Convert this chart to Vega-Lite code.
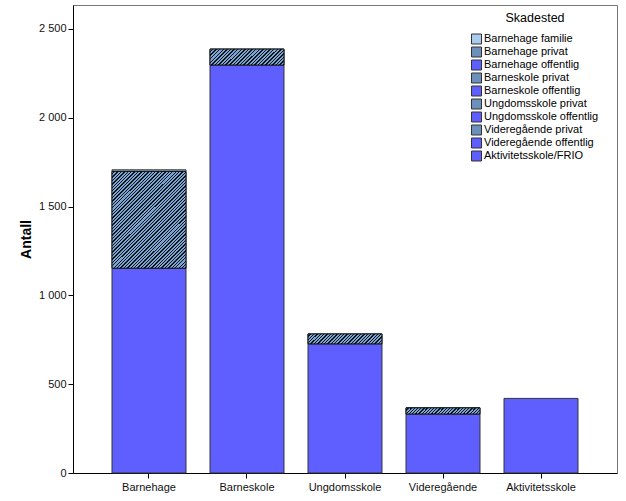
{
  "$schema": "https://vega.github.io/schema/vega-lite/v6.json",
  "width": 544,
  "height": 468,
  "autosize": {"type": "none"},
  "padding": {"left": 73, "top": 5, "right": 9, "bottom": 28},
  "config": {"font": "Liberation Sans", "view": {"stroke": "#777", "strokeWidth": 1}},
  "data": {"values": [
    {"Type": "Barnehage", "Skadested": "Barnehage familie", "Antall": 9},
    {"Type": "Barnehage", "Skadested": "Barnehage privat", "Antall": 545},
    {"Type": "Barnehage", "Skadested": "Barnehage offentlig", "Antall": 1153},
    {"Type": "Barneskole", "Skadested": "Barneskole privat", "Antall": 90},
    {"Type": "Barneskole", "Skadested": "Barneskole offentlig", "Antall": 2297},
    {"Type": "Ungdomsskole", "Skadested": "Ungdomsskole privat", "Antall": 56},
    {"Type": "Ungdomsskole", "Skadested": "Ungdomsskole offentlig", "Antall": 727},
    {"Type": "Videregående", "Skadested": "Videregående privat", "Antall": 35},
    {"Type": "Videregående", "Skadested": "Videregående offentlig", "Antall": 332},
    {"Type": "Aktivitetsskole", "Skadested": "Aktivitetsskole/FRIO", "Antall": 420}
  ]},
  "transform": [
    {"calculate": "indexof(['Barnehage familie','Barnehage privat','Barnehage offentlig','Barneskole privat','Barneskole offentlig','Ungdomsskole privat','Ungdomsskole offentlig','Videregående privat','Videregående offentlig','Aktivitetsskole/FRIO'], datum.Skadested)", "as": "so"},
    {"stack": "Antall", "groupby": ["Type"], "sort": [{"field": "so", "order": "descending"}], "as": ["y0", "y1"]}
  ],
  "encoding": {
    "x": {"field": "Type", "type": "nominal", "sort": ["Barnehage", "Barneskole", "Ungdomsskole", "Videregående", "Aktivitetsskole"],
      "scale": {"paddingInner": 0.245, "paddingOuter": 0.398},
      "axis": {"title": null, "labelAngle": 0, "labelFontSize": 11, "labelColor": "#111", "tickSize": 5, "tickColor": "#000", "domainColor": "#000", "labelPadding": 3, "grid": false}},
    "y": {"field": "y1", "type": "quantitative", "scale": {"domain": [0, 2635], "nice": false, "zero": true},
      "axis": {"title": "Antall", "titleFontSize": 14, "titleFontWeight": "bold", "titleColor": "#000", "titlePadding": 5,
        "values": [0, 500, 1000, 1500, 2000, 2500], "labelExpr": "replace(format(datum.value, ','), ',', ' ')",
        "labelFontSize": 11, "labelColor": "#111", "tickSize": 5, "tickColor": "#000", "domainColor": "#000", "labelPadding": 2, "grid": false}},
    "y2": {"field": "y0"}
  },
  "layer": [
    {
      "mark": {"type": "bar", "stroke": "#333", "strokeWidth": 1},
      "encoding": {
        "color": {"field": "Skadested", "type": "nominal",
          "scale": {"domain": ["Barnehage familie", "Barnehage privat", "Barnehage offentlig", "Barneskole privat", "Barneskole offentlig", "Ungdomsskole privat", "Ungdomsskole offentlig", "Videregående privat", "Videregående offentlig", "Aktivitetsskole/FRIO"],
            "range": ["#a8cbee", "#6a90bb", "#5f5fff", "#6a90bb", "#5f5fff", "#6a90bb", "#5f5fff", "#6a90bb", "#5f5fff", "#5f5fff"]},
          "legend": {"title": "Skadested", "orient": "none", "legendX": 398, "legendY": 7, "padding": 0,
            "titleFontSize": 12.5, "titleFontWeight": "normal", "titleColor": "#000", "titleAnchor": "middle", "titlePadding": 9,
            "labelFontSize": 11, "labelColor": "#000", "labelOffset": 2, "rowPadding": -2,
            "symbolType": "square", "symbolSize": 100, "symbolStrokeColor": "#333", "symbolStrokeWidth": 1, "symbolOpacity": 1}}
      }
    },
    {
      "transform": [{"filter": "datum.Skadested == 'Barnehage privat'"}],
      "mark": {"type": "bar", "stroke": "#111", "strokeWidth": 1,
        "fill": {"gradient": "linear", "x1": 0, "y1": 0, "x2": 0.8501, "y2": 1.1143, "stops": [
{"offset":0,"color":"#78a4d6"},{"offset":0.012,"color":"#78a4d6"},{"offset":0.012,"color":"#141414"},{"offset":0.02,"color":"#141414"},
{"offset":0.02,"color":"#78a4d6"},{"offset":0.032,"color":"#78a4d6"},{"offset":0.032,"color":"#141414"},{"offset":0.04,"color":"#141414"},
{"offset":0.04,"color":"#78a4d6"},{"offset":0.052,"color":"#78a4d6"},{"offset":0.052,"color":"#141414"},{"offset":0.06,"color":"#141414"},
{"offset":0.06,"color":"#78a4d6"},{"offset":0.072,"color":"#78a4d6"},{"offset":0.072,"color":"#141414"},{"offset":0.08,"color":"#141414"},
{"offset":0.08,"color":"#78a4d6"},{"offset":0.092,"color":"#78a4d6"},{"offset":0.092,"color":"#141414"},{"offset":0.1,"color":"#141414"},
{"offset":0.1,"color":"#78a4d6"},{"offset":0.112,"color":"#78a4d6"},{"offset":0.112,"color":"#141414"},{"offset":0.12,"color":"#141414"},
{"offset":0.12,"color":"#78a4d6"},{"offset":0.132,"color":"#78a4d6"},{"offset":0.132,"color":"#141414"},{"offset":0.14,"color":"#141414"},
{"offset":0.14,"color":"#78a4d6"},{"offset":0.152,"color":"#78a4d6"},{"offset":0.152,"color":"#141414"},{"offset":0.16,"color":"#141414"},
{"offset":0.16,"color":"#78a4d6"},{"offset":0.172,"color":"#78a4d6"},{"offset":0.172,"color":"#141414"},{"offset":0.18,"color":"#141414"},
{"offset":0.18,"color":"#78a4d6"},{"offset":0.192,"color":"#78a4d6"},{"offset":0.192,"color":"#141414"},{"offset":0.2,"color":"#141414"},
{"offset":0.2,"color":"#78a4d6"},{"offset":0.212,"color":"#78a4d6"},{"offset":0.212,"color":"#141414"},{"offset":0.22,"color":"#141414"},
{"offset":0.22,"color":"#78a4d6"},{"offset":0.232,"color":"#78a4d6"},{"offset":0.232,"color":"#141414"},{"offset":0.24,"color":"#141414"},
{"offset":0.24,"color":"#78a4d6"},{"offset":0.252,"color":"#78a4d6"},{"offset":0.252,"color":"#141414"},{"offset":0.26,"color":"#141414"},
{"offset":0.26,"color":"#78a4d6"},{"offset":0.272,"color":"#78a4d6"},{"offset":0.272,"color":"#141414"},{"offset":0.28,"color":"#141414"},
{"offset":0.28,"color":"#78a4d6"},{"offset":0.292,"color":"#78a4d6"},{"offset":0.292,"color":"#141414"},{"offset":0.3,"color":"#141414"},
{"offset":0.3,"color":"#78a4d6"},{"offset":0.312,"color":"#78a4d6"},{"offset":0.312,"color":"#141414"},{"offset":0.32,"color":"#141414"},
{"offset":0.32,"color":"#78a4d6"},{"offset":0.332,"color":"#78a4d6"},{"offset":0.332,"color":"#141414"},{"offset":0.34,"color":"#141414"},
{"offset":0.34,"color":"#78a4d6"},{"offset":0.352,"color":"#78a4d6"},{"offset":0.352,"color":"#141414"},{"offset":0.36,"color":"#141414"},
{"offset":0.36,"color":"#78a4d6"},{"offset":0.372,"color":"#78a4d6"},{"offset":0.372,"color":"#141414"},{"offset":0.38,"color":"#141414"},
{"offset":0.38,"color":"#78a4d6"},{"offset":0.392,"color":"#78a4d6"},{"offset":0.392,"color":"#141414"},{"offset":0.4,"color":"#141414"},
{"offset":0.4,"color":"#78a4d6"},{"offset":0.412,"color":"#78a4d6"},{"offset":0.412,"color":"#141414"},{"offset":0.42,"color":"#141414"},
{"offset":0.42,"color":"#78a4d6"},{"offset":0.432,"color":"#78a4d6"},{"offset":0.432,"color":"#141414"},{"offset":0.44,"color":"#141414"},
{"offset":0.44,"color":"#78a4d6"},{"offset":0.452,"color":"#78a4d6"},{"offset":0.452,"color":"#141414"},{"offset":0.46,"color":"#141414"},
{"offset":0.46,"color":"#78a4d6"},{"offset":0.472,"color":"#78a4d6"},{"offset":0.472,"color":"#141414"},{"offset":0.48,"color":"#141414"},
{"offset":0.48,"color":"#78a4d6"},{"offset":0.492,"color":"#78a4d6"},{"offset":0.492,"color":"#141414"},{"offset":0.5,"color":"#141414"},
{"offset":0.5,"color":"#78a4d6"},{"offset":0.512,"color":"#78a4d6"},{"offset":0.512,"color":"#141414"},{"offset":0.52,"color":"#141414"},
{"offset":0.52,"color":"#78a4d6"},{"offset":0.532,"color":"#78a4d6"},{"offset":0.532,"color":"#141414"},{"offset":0.54,"color":"#141414"},
{"offset":0.54,"color":"#78a4d6"},{"offset":0.552,"color":"#78a4d6"},{"offset":0.552,"color":"#141414"},{"offset":0.56,"color":"#141414"},
{"offset":0.56,"color":"#78a4d6"},{"offset":0.572,"color":"#78a4d6"},{"offset":0.572,"color":"#141414"},{"offset":0.58,"color":"#141414"},
{"offset":0.58,"color":"#78a4d6"},{"offset":0.592,"color":"#78a4d6"},{"offset":0.592,"color":"#141414"},{"offset":0.6,"color":"#141414"},
{"offset":0.6,"color":"#78a4d6"},{"offset":0.612,"color":"#78a4d6"},{"offset":0.612,"color":"#141414"},{"offset":0.62,"color":"#141414"},
{"offset":0.62,"color":"#78a4d6"},{"offset":0.632,"color":"#78a4d6"},{"offset":0.632,"color":"#141414"},{"offset":0.64,"color":"#141414"},
{"offset":0.64,"color":"#78a4d6"},{"offset":0.652,"color":"#78a4d6"},{"offset":0.652,"color":"#141414"},{"offset":0.66,"color":"#141414"},
{"offset":0.66,"color":"#78a4d6"},{"offset":0.672,"color":"#78a4d6"},{"offset":0.672,"color":"#141414"},{"offset":0.68,"color":"#141414"},
{"offset":0.68,"color":"#78a4d6"},{"offset":0.692,"color":"#78a4d6"},{"offset":0.692,"color":"#141414"},{"offset":0.7,"color":"#141414"},
{"offset":0.7,"color":"#78a4d6"},{"offset":0.712,"color":"#78a4d6"},{"offset":0.712,"color":"#141414"},{"offset":0.72,"color":"#141414"},
{"offset":0.72,"color":"#78a4d6"},{"offset":0.732,"color":"#78a4d6"},{"offset":0.732,"color":"#141414"},{"offset":0.74,"color":"#141414"},
{"offset":0.74,"color":"#78a4d6"},{"offset":0.752,"color":"#78a4d6"},{"offset":0.752,"color":"#141414"},{"offset":0.76,"color":"#141414"},
{"offset":0.76,"color":"#78a4d6"},{"offset":0.772,"color":"#78a4d6"},{"offset":0.772,"color":"#141414"},{"offset":0.78,"color":"#141414"},
{"offset":0.78,"color":"#78a4d6"},{"offset":0.792,"color":"#78a4d6"},{"offset":0.792,"color":"#141414"},{"offset":0.8,"color":"#141414"},
{"offset":0.8,"color":"#78a4d6"},{"offset":0.812,"color":"#78a4d6"},{"offset":0.812,"color":"#141414"},{"offset":0.82,"color":"#141414"},
{"offset":0.82,"color":"#78a4d6"},{"offset":0.832,"color":"#78a4d6"},{"offset":0.832,"color":"#141414"},{"offset":0.84,"color":"#141414"},
{"offset":0.84,"color":"#78a4d6"},{"offset":0.852,"color":"#78a4d6"},{"offset":0.852,"color":"#141414"},{"offset":0.86,"color":"#141414"},
{"offset":0.86,"color":"#78a4d6"},{"offset":0.872,"color":"#78a4d6"},{"offset":0.872,"color":"#141414"},{"offset":0.88,"color":"#141414"},
{"offset":0.88,"color":"#78a4d6"},{"offset":0.892,"color":"#78a4d6"},{"offset":0.892,"color":"#141414"},{"offset":0.9,"color":"#141414"},
{"offset":0.9,"color":"#78a4d6"},{"offset":0.912,"color":"#78a4d6"},{"offset":0.912,"color":"#141414"},{"offset":0.92,"color":"#141414"},
{"offset":0.92,"color":"#78a4d6"},{"offset":0.932,"color":"#78a4d6"},{"offset":0.932,"color":"#141414"},{"offset":0.94,"color":"#141414"},
{"offset":0.94,"color":"#78a4d6"},{"offset":0.952,"color":"#78a4d6"},{"offset":0.952,"color":"#141414"},{"offset":0.96,"color":"#141414"},
{"offset":0.96,"color":"#78a4d6"},{"offset":0.972,"color":"#78a4d6"},{"offset":0.972,"color":"#141414"},{"offset":0.98,"color":"#141414"},
{"offset":0.98,"color":"#78a4d6"},{"offset":0.992,"color":"#78a4d6"},{"offset":0.992,"color":"#141414"},{"offset":1,"color":"#141414"}
        ]}}
    },
    {
      "transform": [{"filter": "datum.Skadested == 'Barneskole privat'"}],
      "mark": {"type": "bar", "stroke": "#111", "strokeWidth": 1,
        "fill": {"gradient": "linear", "x1": 0, "y1": 0, "x2": 1.1619, "y2": 0.2512, "stops": [
{"offset":0,"color":"#78a4d6"},{"offset":0.024,"color":"#78a4d6"},{"offset":0.024,"color":"#141414"},{"offset":0.04,"color":"#141414"},
{"offset":0.04,"color":"#78a4d6"},{"offset":0.064,"color":"#78a4d6"},{"offset":0.064,"color":"#141414"},{"offset":0.08,"color":"#141414"},
{"offset":0.08,"color":"#78a4d6"},{"offset":0.104,"color":"#78a4d6"},{"offset":0.104,"color":"#141414"},{"offset":0.12,"color":"#141414"},
{"offset":0.12,"color":"#78a4d6"},{"offset":0.144,"color":"#78a4d6"},{"offset":0.144,"color":"#141414"},{"offset":0.16,"color":"#141414"},
{"offset":0.16,"color":"#78a4d6"},{"offset":0.184,"color":"#78a4d6"},{"offset":0.184,"color":"#141414"},{"offset":0.2,"color":"#141414"},
{"offset":0.2,"color":"#78a4d6"},{"offset":0.224,"color":"#78a4d6"},{"offset":0.224,"color":"#141414"},{"offset":0.24,"color":"#141414"},
{"offset":0.24,"color":"#78a4d6"},{"offset":0.264,"color":"#78a4d6"},{"offset":0.264,"color":"#141414"},{"offset":0.28,"color":"#141414"},
{"offset":0.28,"color":"#78a4d6"},{"offset":0.304,"color":"#78a4d6"},{"offset":0.304,"color":"#141414"},{"offset":0.32,"color":"#141414"},
{"offset":0.32,"color":"#78a4d6"},{"offset":0.344,"color":"#78a4d6"},{"offset":0.344,"color":"#141414"},{"offset":0.36,"color":"#141414"},
{"offset":0.36,"color":"#78a4d6"},{"offset":0.384,"color":"#78a4d6"},{"offset":0.384,"color":"#141414"},{"offset":0.4,"color":"#141414"},
{"offset":0.4,"color":"#78a4d6"},{"offset":0.424,"color":"#78a4d6"},{"offset":0.424,"color":"#141414"},{"offset":0.44,"color":"#141414"},
{"offset":0.44,"color":"#78a4d6"},{"offset":0.464,"color":"#78a4d6"},{"offset":0.464,"color":"#141414"},{"offset":0.48,"color":"#141414"},
{"offset":0.48,"color":"#78a4d6"},{"offset":0.504,"color":"#78a4d6"},{"offset":0.504,"color":"#141414"},{"offset":0.52,"color":"#141414"},
{"offset":0.52,"color":"#78a4d6"},{"offset":0.544,"color":"#78a4d6"},{"offset":0.544,"color":"#141414"},{"offset":0.56,"color":"#141414"},
{"offset":0.56,"color":"#78a4d6"},{"offset":0.584,"color":"#78a4d6"},{"offset":0.584,"color":"#141414"},{"offset":0.6,"color":"#141414"},
{"offset":0.6,"color":"#78a4d6"},{"offset":0.624,"color":"#78a4d6"},{"offset":0.624,"color":"#141414"},{"offset":0.64,"color":"#141414"},
{"offset":0.64,"color":"#78a4d6"},{"offset":0.664,"color":"#78a4d6"},{"offset":0.664,"color":"#141414"},{"offset":0.68,"color":"#141414"},
{"offset":0.68,"color":"#78a4d6"},{"offset":0.704,"color":"#78a4d6"},{"offset":0.704,"color":"#141414"},{"offset":0.72,"color":"#141414"},
{"offset":0.72,"color":"#78a4d6"},{"offset":0.744,"color":"#78a4d6"},{"offset":0.744,"color":"#141414"},{"offset":0.76,"color":"#141414"},
{"offset":0.76,"color":"#78a4d6"},{"offset":0.784,"color":"#78a4d6"},{"offset":0.784,"color":"#141414"},{"offset":0.8,"color":"#141414"},
{"offset":0.8,"color":"#78a4d6"},{"offset":0.824,"color":"#78a4d6"},{"offset":0.824,"color":"#141414"},{"offset":0.84,"color":"#141414"},
{"offset":0.84,"color":"#78a4d6"},{"offset":0.864,"color":"#78a4d6"},{"offset":0.864,"color":"#141414"},{"offset":0.88,"color":"#141414"},
{"offset":0.88,"color":"#78a4d6"},{"offset":0.904,"color":"#78a4d6"},{"offset":0.904,"color":"#141414"},{"offset":0.92,"color":"#141414"},
{"offset":0.92,"color":"#78a4d6"},{"offset":0.944,"color":"#78a4d6"},{"offset":0.944,"color":"#141414"},{"offset":0.96,"color":"#141414"},
{"offset":0.96,"color":"#78a4d6"},{"offset":0.984,"color":"#78a4d6"},{"offset":0.984,"color":"#141414"},{"offset":1,"color":"#141414"}
        ]}}
    },
    {
      "transform": [{"filter": "datum.Skadested == 'Ungdomsskole privat'"}],
      "mark": {"type": "bar", "stroke": "#111", "strokeWidth": 1,
        "fill": {"gradient": "linear", "x1": 0, "y1": 0, "x2": 1.1148, "y2": 0.1506, "stops": [
{"offset":0,"color":"#78a4d6"},{"offset":0.024,"color":"#78a4d6"},{"offset":0.024,"color":"#141414"},{"offset":0.04,"color":"#141414"},
{"offset":0.04,"color":"#78a4d6"},{"offset":0.064,"color":"#78a4d6"},{"offset":0.064,"color":"#141414"},{"offset":0.08,"color":"#141414"},
{"offset":0.08,"color":"#78a4d6"},{"offset":0.104,"color":"#78a4d6"},{"offset":0.104,"color":"#141414"},{"offset":0.12,"color":"#141414"},
{"offset":0.12,"color":"#78a4d6"},{"offset":0.144,"color":"#78a4d6"},{"offset":0.144,"color":"#141414"},{"offset":0.16,"color":"#141414"},
{"offset":0.16,"color":"#78a4d6"},{"offset":0.184,"color":"#78a4d6"},{"offset":0.184,"color":"#141414"},{"offset":0.2,"color":"#141414"},
{"offset":0.2,"color":"#78a4d6"},{"offset":0.224,"color":"#78a4d6"},{"offset":0.224,"color":"#141414"},{"offset":0.24,"color":"#141414"},
{"offset":0.24,"color":"#78a4d6"},{"offset":0.264,"color":"#78a4d6"},{"offset":0.264,"color":"#141414"},{"offset":0.28,"color":"#141414"},
{"offset":0.28,"color":"#78a4d6"},{"offset":0.304,"color":"#78a4d6"},{"offset":0.304,"color":"#141414"},{"offset":0.32,"color":"#141414"},
{"offset":0.32,"color":"#78a4d6"},{"offset":0.344,"color":"#78a4d6"},{"offset":0.344,"color":"#141414"},{"offset":0.36,"color":"#141414"},
{"offset":0.36,"color":"#78a4d6"},{"offset":0.384,"color":"#78a4d6"},{"offset":0.384,"color":"#141414"},{"offset":0.4,"color":"#141414"},
{"offset":0.4,"color":"#78a4d6"},{"offset":0.424,"color":"#78a4d6"},{"offset":0.424,"color":"#141414"},{"offset":0.44,"color":"#141414"},
{"offset":0.44,"color":"#78a4d6"},{"offset":0.464,"color":"#78a4d6"},{"offset":0.464,"color":"#141414"},{"offset":0.48,"color":"#141414"},
{"offset":0.48,"color":"#78a4d6"},{"offset":0.504,"color":"#78a4d6"},{"offset":0.504,"color":"#141414"},{"offset":0.52,"color":"#141414"},
{"offset":0.52,"color":"#78a4d6"},{"offset":0.544,"color":"#78a4d6"},{"offset":0.544,"color":"#141414"},{"offset":0.56,"color":"#141414"},
{"offset":0.56,"color":"#78a4d6"},{"offset":0.584,"color":"#78a4d6"},{"offset":0.584,"color":"#141414"},{"offset":0.6,"color":"#141414"},
{"offset":0.6,"color":"#78a4d6"},{"offset":0.624,"color":"#78a4d6"},{"offset":0.624,"color":"#141414"},{"offset":0.64,"color":"#141414"},
{"offset":0.64,"color":"#78a4d6"},{"offset":0.664,"color":"#78a4d6"},{"offset":0.664,"color":"#141414"},{"offset":0.68,"color":"#141414"},
{"offset":0.68,"color":"#78a4d6"},{"offset":0.704,"color":"#78a4d6"},{"offset":0.704,"color":"#141414"},{"offset":0.72,"color":"#141414"},
{"offset":0.72,"color":"#78a4d6"},{"offset":0.744,"color":"#78a4d6"},{"offset":0.744,"color":"#141414"},{"offset":0.76,"color":"#141414"},
{"offset":0.76,"color":"#78a4d6"},{"offset":0.784,"color":"#78a4d6"},{"offset":0.784,"color":"#141414"},{"offset":0.8,"color":"#141414"},
{"offset":0.8,"color":"#78a4d6"},{"offset":0.824,"color":"#78a4d6"},{"offset":0.824,"color":"#141414"},{"offset":0.84,"color":"#141414"},
{"offset":0.84,"color":"#78a4d6"},{"offset":0.864,"color":"#78a4d6"},{"offset":0.864,"color":"#141414"},{"offset":0.88,"color":"#141414"},
{"offset":0.88,"color":"#78a4d6"},{"offset":0.904,"color":"#78a4d6"},{"offset":0.904,"color":"#141414"},{"offset":0.92,"color":"#141414"},
{"offset":0.92,"color":"#78a4d6"},{"offset":0.944,"color":"#78a4d6"},{"offset":0.944,"color":"#141414"},{"offset":0.96,"color":"#141414"},
{"offset":0.96,"color":"#78a4d6"},{"offset":0.984,"color":"#78a4d6"},{"offset":0.984,"color":"#141414"},{"offset":1,"color":"#141414"}
        ]}}
    },
    {
      "transform": [{"filter": "datum.Skadested == 'Videregående privat'"}],
      "mark": {"type": "bar", "stroke": "#111", "strokeWidth": 1,
        "fill": {"gradient": "linear", "x1": 0, "y1": 0, "x2": 1.074, "y2": 0.0871, "stops": [
{"offset":0,"color":"#78a4d6"},{"offset":0.024,"color":"#78a4d6"},{"offset":0.024,"color":"#141414"},{"offset":0.04,"color":"#141414"},
{"offset":0.04,"color":"#78a4d6"},{"offset":0.064,"color":"#78a4d6"},{"offset":0.064,"color":"#141414"},{"offset":0.08,"color":"#141414"},
{"offset":0.08,"color":"#78a4d6"},{"offset":0.104,"color":"#78a4d6"},{"offset":0.104,"color":"#141414"},{"offset":0.12,"color":"#141414"},
{"offset":0.12,"color":"#78a4d6"},{"offset":0.144,"color":"#78a4d6"},{"offset":0.144,"color":"#141414"},{"offset":0.16,"color":"#141414"},
{"offset":0.16,"color":"#78a4d6"},{"offset":0.184,"color":"#78a4d6"},{"offset":0.184,"color":"#141414"},{"offset":0.2,"color":"#141414"},
{"offset":0.2,"color":"#78a4d6"},{"offset":0.224,"color":"#78a4d6"},{"offset":0.224,"color":"#141414"},{"offset":0.24,"color":"#141414"},
{"offset":0.24,"color":"#78a4d6"},{"offset":0.264,"color":"#78a4d6"},{"offset":0.264,"color":"#141414"},{"offset":0.28,"color":"#141414"},
{"offset":0.28,"color":"#78a4d6"},{"offset":0.304,"color":"#78a4d6"},{"offset":0.304,"color":"#141414"},{"offset":0.32,"color":"#141414"},
{"offset":0.32,"color":"#78a4d6"},{"offset":0.344,"color":"#78a4d6"},{"offset":0.344,"color":"#141414"},{"offset":0.36,"color":"#141414"},
{"offset":0.36,"color":"#78a4d6"},{"offset":0.384,"color":"#78a4d6"},{"offset":0.384,"color":"#141414"},{"offset":0.4,"color":"#141414"},
{"offset":0.4,"color":"#78a4d6"},{"offset":0.424,"color":"#78a4d6"},{"offset":0.424,"color":"#141414"},{"offset":0.44,"color":"#141414"},
{"offset":0.44,"color":"#78a4d6"},{"offset":0.464,"color":"#78a4d6"},{"offset":0.464,"color":"#141414"},{"offset":0.48,"color":"#141414"},
{"offset":0.48,"color":"#78a4d6"},{"offset":0.504,"color":"#78a4d6"},{"offset":0.504,"color":"#141414"},{"offset":0.52,"color":"#141414"},
{"offset":0.52,"color":"#78a4d6"},{"offset":0.544,"color":"#78a4d6"},{"offset":0.544,"color":"#141414"},{"offset":0.56,"color":"#141414"},
{"offset":0.56,"color":"#78a4d6"},{"offset":0.584,"color":"#78a4d6"},{"offset":0.584,"color":"#141414"},{"offset":0.6,"color":"#141414"},
{"offset":0.6,"color":"#78a4d6"},{"offset":0.624,"color":"#78a4d6"},{"offset":0.624,"color":"#141414"},{"offset":0.64,"color":"#141414"},
{"offset":0.64,"color":"#78a4d6"},{"offset":0.664,"color":"#78a4d6"},{"offset":0.664,"color":"#141414"},{"offset":0.68,"color":"#141414"},
{"offset":0.68,"color":"#78a4d6"},{"offset":0.704,"color":"#78a4d6"},{"offset":0.704,"color":"#141414"},{"offset":0.72,"color":"#141414"},
{"offset":0.72,"color":"#78a4d6"},{"offset":0.744,"color":"#78a4d6"},{"offset":0.744,"color":"#141414"},{"offset":0.76,"color":"#141414"},
{"offset":0.76,"color":"#78a4d6"},{"offset":0.784,"color":"#78a4d6"},{"offset":0.784,"color":"#141414"},{"offset":0.8,"color":"#141414"},
{"offset":0.8,"color":"#78a4d6"},{"offset":0.824,"color":"#78a4d6"},{"offset":0.824,"color":"#141414"},{"offset":0.84,"color":"#141414"},
{"offset":0.84,"color":"#78a4d6"},{"offset":0.864,"color":"#78a4d6"},{"offset":0.864,"color":"#141414"},{"offset":0.88,"color":"#141414"},
{"offset":0.88,"color":"#78a4d6"},{"offset":0.904,"color":"#78a4d6"},{"offset":0.904,"color":"#141414"},{"offset":0.92,"color":"#141414"},
{"offset":0.92,"color":"#78a4d6"},{"offset":0.944,"color":"#78a4d6"},{"offset":0.944,"color":"#141414"},{"offset":0.96,"color":"#141414"},
{"offset":0.96,"color":"#78a4d6"},{"offset":0.984,"color":"#78a4d6"},{"offset":0.984,"color":"#141414"},{"offset":1,"color":"#141414"}
        ]}}
    }
  ]
}
